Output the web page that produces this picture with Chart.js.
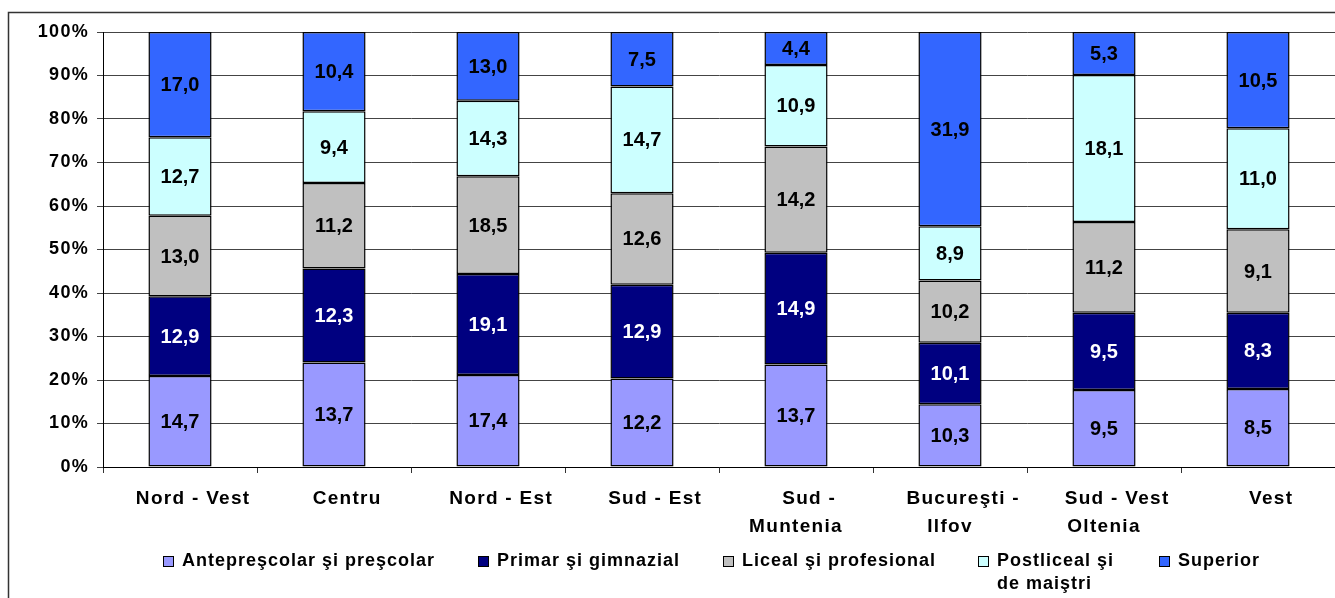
<!DOCTYPE html>
<html>
<head>
<meta charset="utf-8">
<script src="https://cdn.jsdelivr.net/npm/chart.js@4.4.0/dist/chart.umd.min.js"></script>
<style>
  html, body { margin: 0; padding: 0; background: #fff; }
  #wrap { width: 1335px; height: 598px; position: relative; }
</style>
</head>
<body>
<div id="wrap"><canvas id="c"></canvas></div>
<script>
// ---- data (values as printed on the bars) ----
const REGIONS = [
  'Nord - Vest', 'Centru', 'Nord - Est', 'Sud - Est',
  ['Sud -', 'Muntenia'], ['Bucureşti -', 'Ilfov'], ['Sud - Vest', 'Oltenia'], 'Vest'
];
const ANTEPRESCOLAR = [14.7, 13.7, 17.4, 12.2, 13.7, 10.3, 9.5, 8.5];
const PRIMAR        = [12.9, 12.3, 19.1, 12.9, 14.9, 10.1, 9.5, 8.3];
const LICEAL        = [13.0, 11.2, 18.5, 12.6, 14.2, 10.2, 11.2, 9.1];
const POSTLICEAL    = [12.7, 9.4, 14.3, 14.7, 10.9, 8.9, 18.1, 11.0];
const SUPERIOR      = [17.0, 10.4, 13.0, 7.5, 4.4, 31.9, 5.3, 10.5];

const SERIES_NAMES = ['Antepreşcolar şi preşcolar', 'Primar şi gimnazial', 'Liceal şi profesional', ['Postliceal şi', 'de maiştri'], 'Superior'];
const Y_TICKS = [0, 10, 20, 30, 40, 50, 60, 70, 80, 90, 100];

// ---- styles ----
const COLORS = ['#9999ff', '#000080', '#c0c0c0', '#ccffff', '#3366ff'];
const LABEL_COLORS = ['#000', '#fff', '#000', '#000', '#000'];
const FONT = '"Liberation Sans", Arial, sans-serif';
const LEGEND_X = [163, 478, 723, 978, 1159]; // left edge of each legend box
const FIRST_LINE_PAD = '\u00a0\u00a0\u00a0\u00a0'; // Excel pushes the first line of the category labels to the right

const RAW = [ANTEPRESCOLAR, PRIMAR, LICEAL, POSTLICEAL, SUPERIOR];

// 100% stacked: each segment is its share of the column total
const totals = REGIONS.map((_, j) => RAW.reduce((a, s) => a + s[j], 0));
const shares = s => s.map((v, j) => v * 100 / totals[j]);

const fmt = v => v.toFixed(1).replace('.', ',');

// frame round the chart (cut off at the right and bottom in the original)
// + the wide letter spacing of the axis texts
const framePlugin = {
  id: 'frame',
  beforeDraw(chart) {
    const ctx = chart.ctx;
    ctx.save();
    ctx.fillStyle = '#fff';
    ctx.fillRect(0, 0, chart.width, chart.height);
    ctx.strokeStyle = '#333';
    ctx.lineWidth = 1.5;
    ctx.beginPath();
    ctx.moveTo(8.5, chart.height);
    ctx.lineTo(8.5, 12.5);
    ctx.lineTo(chart.width, 12.5);
    ctx.stroke();
    ctx.restore();
    ctx.letterSpacing = '1.3px';
  },
  beforeDatasetsDraw(chart) {
    chart.ctx.letterSpacing = '0px';
  }
};

// value labels inside the segments
const valuePlugin = {
  id: 'values',
  afterDatasetsDraw(chart) {
    const ctx = chart.ctx;
    ctx.save();
    ctx.letterSpacing = '0px';
    ctx.font = `bold 20px ${FONT}`;
    ctx.textAlign = 'center';
    ctx.textBaseline = 'middle';
    chart.data.datasets.forEach((ds, i) => {
      chart.getDatasetMeta(i).data.forEach((bar, j) => {
        const { x, y, base } = bar.getProps(['x', 'y', 'base'], true);
        ctx.fillStyle = LABEL_COLORS[i];
        ctx.fillText(fmt(RAW[i][j]), x, (y + base) / 2 + 1);
      });
    });
    ctx.restore();
  }
};

// legend drawn by hand so the fourth entry can wrap onto two lines
const legendPlugin = {
  id: 'legendManual',
  afterDraw(chart) {
    const ctx = chart.ctx;
    ctx.save();
    ctx.letterSpacing = '1px';
    ctx.font = `bold 18px ${FONT}`;
    ctx.textBaseline = 'middle';
    ctx.textAlign = 'left';
    SERIES_NAMES.forEach((name, i) => {
      const bx = LEGEND_X[i], by = 556;
      ctx.fillStyle = COLORS[i];
      ctx.fillRect(bx, by, 11, 11);
      ctx.strokeStyle = '#000';
      ctx.lineWidth = 1;
      ctx.strokeRect(bx + 0.5, by + 0.5, 10, 10);
      ctx.fillStyle = '#000';
      const lines = Array.isArray(name) ? name : [name];
      lines.forEach((t, k) => ctx.fillText(t, bx + 19, 561 + k * 23));
    });
    ctx.restore();
  }
};

new Chart(document.getElementById('c'), {
  type: 'bar',
  data: {
    labels: REGIONS,
    datasets: RAW.map((s, i) => ({
      label: Array.isArray(SERIES_NAMES[i]) ? SERIES_NAMES[i].join(' ') : SERIES_NAMES[i],
      data: shares(s),
      backgroundColor: COLORS[i],
      borderColor: '#000',
      borderWidth: 1.5,
      borderSkipped: false,
      barPercentage: 0.82,
      categoryPercentage: 0.5
    }))
  },
  options: {
    responsive: true,
    maintainAspectRatio: false,
    animation: false,
    layout: { padding: { top: 32, left: 0, right: 0, bottom: 0 } },
    plugins: {
      legend: { display: false },
      tooltip: { enabled: false }
    },
    scales: {
      x: {
        stacked: true,
        offset: true,
        grid: { display: true, drawOnChartArea: false, drawTicks: true, tickLength: 6, color: '#333', offset: true },
        border: { display: true, color: '#000' },
        ticks: {
          color: '#000',
          padding: 12,
          maxRotation: 0,
          autoSkip: false,
          font: { family: FONT, size: 19, weight: 'bold', lineHeight: 1.45 },
          callback: (v, i) => {
            const l = REGIONS[i];
            return Array.isArray(l) ? [FIRST_LINE_PAD + l[0], l[1]] : FIRST_LINE_PAD + l;
          }
        },
        afterFit: s => { s.height = 131; }
      },
      y: {
        stacked: true,
        min: 0,
        max: 100,
        afterBuildTicks: s => { s.ticks = Y_TICKS.map(v => ({ value: v })); },
        grid: { color: '#444', tickLength: 6 },
        border: { display: true, color: '#000' },
        ticks: {
          color: '#000',
          padding: 8,
          callback: v => v + '%',
          font: { family: FONT, size: 18, weight: 'bold' }
        },
        afterFit: s => { s.width = 103; }
      }
    }
  },
  plugins: [framePlugin, valuePlugin, legendPlugin]
});
</script>
</body>
</html>
